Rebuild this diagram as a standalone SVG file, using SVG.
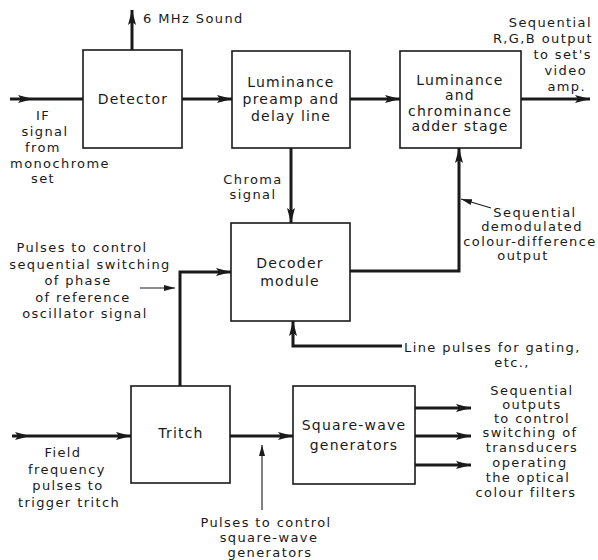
<svg xmlns="http://www.w3.org/2000/svg" width="598" height="560" viewBox="0 0 598 560">
  <style>
    .box { fill: #ffffff; stroke: #1a1a1a; stroke-width: 1.6; }
    .bt { font-family: "DejaVu Sans", "Liberation Sans", sans-serif; font-size: 14px; letter-spacing: 1.2px; fill: #1a1a1a; text-anchor: middle; }
    .lt { font-family: "DejaVu Sans", "Liberation Sans", sans-serif; font-size: 13px; letter-spacing: 1.4px; fill: #1a1a1a; text-anchor: middle; }
    .st { text-anchor: start; }
    .en { text-anchor: end; }
    .thick { fill: none; stroke: #1a1a1a; stroke-width: 3; }
    .thin { fill: none; stroke: #1a1a1a; stroke-width: 1.1; }
  </style>
  <defs>
    <marker id="ah" markerUnits="userSpaceOnUse" markerWidth="16" markerHeight="10" refX="15" refY="5" orient="auto">
      <path d="M0,1 L15,5 L0,9 L3,5 Z" fill="#1a1a1a"/>
    </marker>
    <marker id="ahs" markerUnits="userSpaceOnUse" markerWidth="12" markerHeight="8" refX="11" refY="4" orient="auto">
      <path d="M0,1 L11,4 L0,7 Z" fill="#1a1a1a"/>
    </marker>
  </defs>

  <rect width="598" height="560" fill="#ffffff"/>

  <!-- signal paths -->
  <g id="connectors">
    <polyline class="thick" points="10,99 33,99 83,99" marker-mid="url(#ah)"/>
    <line class="thick" x1="132" y1="50" x2="132" y2="10" marker-end="url(#ah)"/>
    <line class="thick" x1="182" y1="99" x2="232" y2="99" marker-end="url(#ah)"/>
    <line class="thick" x1="350" y1="99" x2="400" y2="99" marker-end="url(#ah)"/>
    <line class="thick" x1="521" y1="99" x2="590" y2="99" marker-end="url(#ah)"/>
    <line class="thick" x1="291" y1="148" x2="291" y2="223" marker-end="url(#ah)"/>
    <path class="thick" d="M180,386 V272 H231" marker-end="url(#ah)"/>
    <path class="thick" d="M350,271 H459 V148" marker-end="url(#ah)"/>
    <path class="thick" d="M402,346 H293 V321" marker-end="url(#ah)"/>
    <polyline class="thick" points="12,436 30,436 131,436" marker-mid="url(#ah)" marker-end="url(#ah)"/>
    <line class="thick" x1="230" y1="436" x2="293" y2="436" marker-end="url(#ah)"/>
    <line class="thick" x1="415" y1="408" x2="471" y2="408" marker-end="url(#ah)"/>
    <line class="thick" x1="415" y1="436" x2="471" y2="436" marker-end="url(#ah)"/>
    <line class="thick" x1="415" y1="465" x2="471" y2="465" marker-end="url(#ah)"/>
    <!-- label pointers -->
    <line class="thin" x1="140" y1="288" x2="175" y2="288" marker-end="url(#ahs)"/>
    <line class="thin" x1="262" y1="510" x2="262" y2="445" marker-end="url(#ahs)"/>
    <line class="thin" x1="491" y1="208" x2="461" y2="199" marker-end="url(#ahs)"/>
  </g>

  <g id="detector">
    <rect class="box" x="83" y="50" width="99" height="98"/>
    <text class="bt" x="133" y="104">Detector</text>
  </g>

  <g id="luminance-preamp">
    <rect class="box" x="232" y="51" width="118" height="97"/>
    <text class="bt" x="291" y="87">Luminance</text>
    <text class="bt" x="291" y="104">preamp and</text>
    <text class="bt" x="291" y="121">delay line</text>
  </g>

  <g id="adder">
    <rect class="box" x="400" y="51" width="121" height="97"/>
    <text class="bt" x="460" y="85">Luminance</text>
    <text class="bt" x="460" y="100">and</text>
    <text class="bt" x="460" y="116">chrominance</text>
    <text class="bt" x="460" y="131">adder stage</text>
  </g>

  <g id="decoder">
    <rect class="box" x="231" y="223" width="119" height="98"/>
    <text class="bt" x="290" y="268">Decoder</text>
    <text class="bt" x="290" y="286">module</text>
  </g>

  <g id="tritch">
    <rect class="box" x="131" y="386" width="99" height="97"/>
    <text class="bt" x="181" y="438">Tritch</text>
  </g>

  <g id="square-wave">
    <rect class="box" x="293" y="386" width="122" height="98"/>
    <text class="bt" x="354" y="430">Square-wave</text>
    <text class="bt" x="354" y="450">generators</text>
  </g>

  <!-- labels -->
  <g id="labels">
    <text class="lt st" x="143" y="23">6 MHz Sound</text>

    <text class="lt en" x="592" y="27">Sequential</text>
    <text class="lt en" x="593" y="43">R,G,B output</text>
    <text class="lt en" x="592" y="59">to set's</text>
    <text class="lt en" x="587" y="75">video</text>
    <text class="lt en" x="586" y="91">amp.</text>

    <text class="lt" x="43" y="120">IF</text>
    <text class="lt" x="45" y="136">signal</text>
    <text class="lt" x="43" y="152">from</text>
    <text class="lt" x="60" y="168">monochrome</text>
    <text class="lt" x="43" y="183">set</text>

    <text class="lt" x="253" y="184">Chroma</text>
    <text class="lt" x="253" y="199">signal</text>

    <text class="lt" x="82" y="252">Pulses to control</text>
    <text class="lt" x="90" y="269">sequential switching</text>
    <text class="lt" x="78" y="285">of phase</text>
    <text class="lt" x="83" y="302">of reference</text>
    <text class="lt" x="85" y="318">oscillator signal</text>

    <text class="lt" x="535" y="217">Sequential</text>
    <text class="lt" x="532" y="231">demodulated</text>
    <text class="lt" x="530" y="246">colour-difference</text>
    <text class="lt" x="523" y="260">output</text>

    <text class="lt st" x="404" y="352">Line pulses for gating,</text>
    <text class="lt" x="512" y="367">etc.,</text>

    <text class="lt" x="63" y="457">Field</text>
    <text class="lt" x="67" y="474">frequency</text>
    <text class="lt" x="68" y="490">pulses to</text>
    <text class="lt" x="69" y="507">trigger tritch</text>

    <text class="lt" x="266" y="527">Pulses to control</text>
    <text class="lt" x="269" y="542">square-wave</text>
    <text class="lt" x="270" y="557">generators</text>

    <text class="lt" x="532" y="395">Sequential</text>
    <text class="lt" x="532" y="409">outputs</text>
    <text class="lt" x="532" y="423">to control</text>
    <text class="lt" x="530" y="437">switching of</text>
    <text class="lt" x="532" y="452">transducers</text>
    <text class="lt" x="530" y="467">operating</text>
    <text class="lt" x="528" y="482">the optical</text>
    <text class="lt" x="526" y="497">colour filters</text>
  </g>
</svg>
